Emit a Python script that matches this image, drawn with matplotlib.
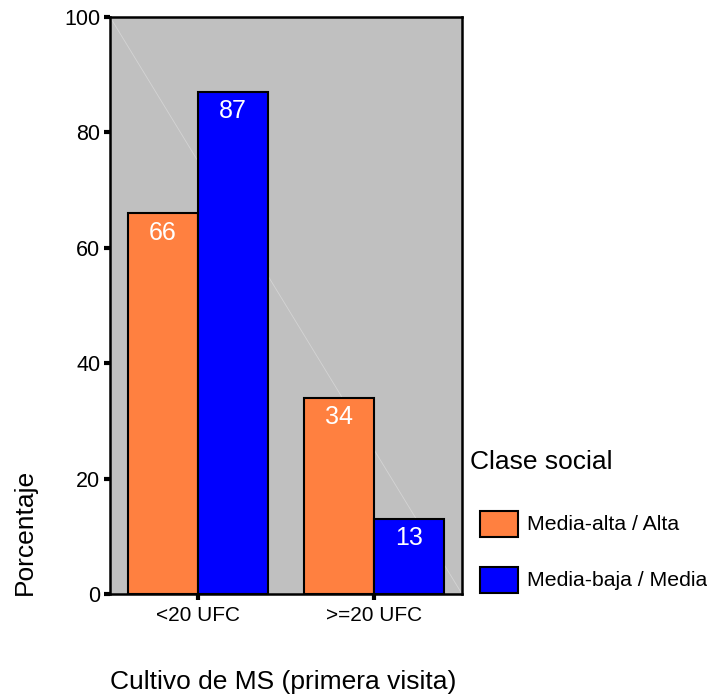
import matplotlib.pyplot as plt
from matplotlib.patches import Rectangle
import numpy as np

plt.rcParams['font.family'] = ['Liberation Sans', 'DejaVu Sans']

categorias = ['<20 UFC', '>=20 UFC']
series = ['Media-alta / Alta', 'Media-baja / Media']
valores = [[66, 34], [87, 13]]
colores = ['#FF8040', '#0000FF']

fig = plt.figure(figsize=(7.07, 6.96), dpi=100)
ax = fig.add_axes([0.1556, 0.1466, 0.4979, 0.829])
ax.set_facecolor('#C0C0C0')

x = np.arange(len(categorias))
ancho = 0.4
for k in range(len(series)):
    pos = x + (k - 0.5) * ancho
    barras = ax.bar(pos, valores[k], ancho, color=colores[k],
                    edgecolor='black', linewidth=1.5, zorder=3)
    for b, v in zip(barras, valores[k]):
        ax.text(b.get_x() + b.get_width() / 2, v - 1.3, str(v),
                ha='center', va='top', color='white', fontsize=18, zorder=4)

# linea tenue del fondo
ax.plot([0, 1], [1, 0], transform=ax.transAxes, color='#D4D4D4',
        lw=0.6, zorder=1)

ax.set_xlim(-0.5, 1.5)
ax.set_ylim(0, 100)
ax.set_xticks(x)
ax.set_xticklabels(categorias, fontsize=15)
ax.set_yticks(range(0, 101, 20))
ax.tick_params(axis='y', labelsize=15.5, length=4, width=3, direction='out', pad=3)
ax.tick_params(axis='x', length=4, width=3, direction='out', pad=5)
for s in ax.spines.values():
    s.set_linewidth(1.8)

fig.text(0.035, 0.145, 'Porcentaje', rotation=90, ha='center', va='bottom',
         fontsize=19)
fig.text(0.40, 0.02, 'Cultivo de MS (primera visita)', ha='center',
         va='center', fontsize=19)

# leyenda
fig.text(470 / 707, 1 - 462 / 696, 'Clase social', ha='left', va='center',
         fontsize=19)
for k, nombre in enumerate(series):
    yc = 524 + k * 56
    fig.patches.append(Rectangle((480 / 707, 1 - (yc + 13) / 696), 38 / 707,
                                 26 / 696, transform=fig.transFigure,
                                 facecolor=colores[k], edgecolor='black',
                                 linewidth=1.5))
    fig.text(527 / 707, 1 - yc / 696, nombre, ha='left', va='center',
             fontsize=15.3)

fig.savefig('out.png', dpi=100)
